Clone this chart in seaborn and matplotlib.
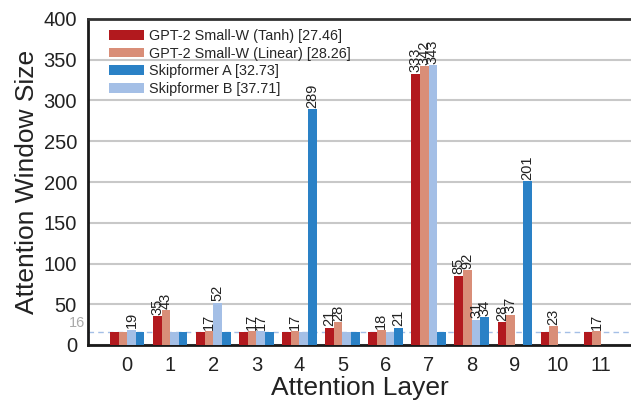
import numpy as np
import pandas as pd
import seaborn as sns
import matplotlib.pyplot as plt
import matplotlib.transforms as mtransforms

layers = list(range(12))
tanh = [16, 35, 16, 16, 16, 21, 16, 333, 85, 28, 16, 16]
linear = [16, 43, 17, 17, 17, 28, 18, 342, 92, 37, 23, 17]
skip_b = [19, 16, 52, 17, 16, 16, 16, 343, 31, np.nan, np.nan, np.nan]
skip_a = [16, 16, 16, 16, 289, 16, 21, 16, 34, 201, np.nan, np.nan]

names = ["GPT-2 Small-W (Tanh) [27.46]", "GPT-2 Small-W (Linear) [28.26]",
         "Skipformer B [37.71]", "Skipformer A [32.73]"]
legend_order = [names[0], names[1], names[3], names[2]]
colors = ["#b2191e", "#d98e78", "#a4bfe6", "#2a81c6"]
yticks = [0, 50, 100, 150, 200, 250, 300, 350, 400]
baseline = 16

rows = []
for name, vals in zip(names, [tanh, linear, skip_b, skip_a]):
    for l, v in zip(layers, vals):
        if not np.isnan(v):
            rows.append({"layer": l, "series": name, "value": v})
df = pd.DataFrame(rows)

sns.set_style("white")
plt.rcParams["font.family"] = ["Liberation Sans", "DejaVu Sans"]

fig = plt.figure(figsize=(6.31, 4.01), dpi=100)
ax = fig.add_axes([88 / 631, 1 - 345 / 401, (631 - 88) / 631, (345 - 19) / 401])

sns.barplot(data=df, x="layer", y="value", hue="series", hue_order=names,
            order=layers, palette=colors, saturation=1, width=0.8,
            dodge=True, ax=ax, zorder=3, linewidth=0, edgecolor="none")

for cont in ax.containers:
    labs = []
    for b in cont:
        h = b.get_height()
        labs.append(f"{int(round(h))}" if h > baseline else "")
    ax.bar_label(cont, labels=labs, rotation=90, padding=1, fontsize=10.5,
                 color="#222222")

ax.axhline(baseline, color="#a4bfe6", lw=1, ls=(0, (4, 3)), zorder=2)
trans = mtransforms.blended_transform_factory(ax.transAxes, ax.transData)
ax.text(-0.006, baseline + 2, "16", transform=trans, ha="right", va="bottom",
        fontsize=10.5, color="#aaaaaa")

ax.set_ylim(0, 400)
ax.set_xlim(-0.91, 11.7)
ax.set_yticks(yticks)
ax.yaxis.grid(True, color="#c8c8c8", lw=1.5, zorder=0)
ax.set_axisbelow(True)

for s in ["left", "bottom"]:
    ax.spines[s].set_color("#1a1a1a")
    ax.spines[s].set_linewidth(2)
ax.spines["top"].set_color("#333333")
ax.spines["top"].set_linewidth(2)
ax.spines["right"].set_visible(False)

ax.tick_params(axis="both", which="major", direction="out", length=5, width=2,
               color="#1a1a1a", labelsize=14.5, labelcolor="#222222", pad=3)
ax.set_xlabel("Attention Layer", fontsize=19, color="#222222", labelpad=1)
ax.set_ylabel("Attention Window Size", fontsize=19, color="#222222", labelpad=3)

handles, labels = ax.get_legend_handles_labels()
hmap = dict(zip(labels, handles))
ax.legend([hmap[n] for n in legend_order], legend_order, loc="upper left",
          bbox_to_anchor=(0.02, 1.0), frameon=False, fontsize=10.4,
          handlelength=2.4, handleheight=0.65, labelspacing=0.25,
          handletextpad=0.4, borderaxespad=0.3)

fig.savefig("out.png", dpi=100)
